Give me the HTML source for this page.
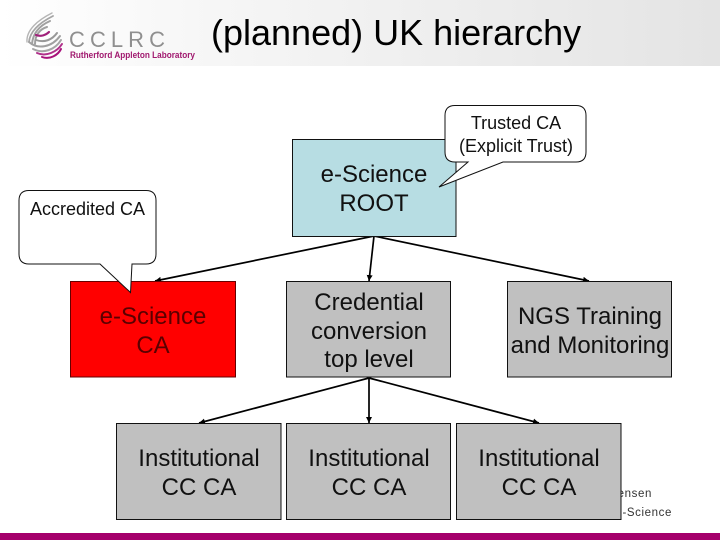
<!DOCTYPE html>
<html>
<head>
<meta charset="utf-8">
<title>(planned) UK hierarchy</title>
<style>
html,body{margin:0;padding:0;background:#fff}
svg{display:block}
text{font-family:"Liberation Sans",sans-serif}
</style>
</head>
<body>
<svg width="720" height="540" viewBox="0 0 720 540" xmlns="http://www.w3.org/2000/svg">
<defs>
<linearGradient id="hdr" x1="0" x2="1" y1="0" y2="0">
<stop offset="0" stop-color="#ffffff"/>
<stop offset="0.3" stop-color="#f6f6f6"/>
<stop offset="1" stop-color="#e4e4e4"/>
</linearGradient>
<marker id="a" markerWidth="8" markerHeight="8" refX="6" refY="3" orient="auto" markerUnits="userSpaceOnUse">
<path d="M0,0 L6,3 L0,6 Z" fill="#000"/>
</marker>
</defs>
<rect width="720" height="540" fill="#fff"/>
<rect width="720" height="66" fill="url(#hdr)"/>

<!-- logo -->
<g fill="none" stroke-linecap="round">
<path d="M52,13 C38,20 26,30 27,42" stroke="#b5b5b5" stroke-width="1.4"/>
<path d="M53,16 C41,22 30,30 29,42" stroke="#a5a5a5" stroke-width="1.8"/>
<path d="M50,21 C41,25 33,32 32,44" stroke="#a0a0a0" stroke-width="2"/>
<path d="M47,27 C40,29 35,35 35,44" stroke="#a0a0a0" stroke-width="2"/>
<path d="M36,35 C41,37 46,35 49,32" stroke="#a0207a" stroke-width="2.2"/>
<path d="M36,40 C44,43 52,40 57,33" stroke="#999" stroke-width="2"/>
<path d="M29,42 C38,50 52,47 60,36" stroke="#a0a0a0" stroke-width="2"/>
<path d="M33,49 C43,54 55,50 61,40" stroke="#a5a5a5" stroke-width="2"/>
<path d="M37,53 C46,57 57,52 62,44" stroke="#b0308a" stroke-width="2"/>
<path d="M42,57 C50,60 58,55 61,49" stroke="#a8107a" stroke-width="2"/>
</g>
<text x="69" y="47" font-size="22" fill="#8f8f8f" textLength="96" lengthAdjust="spacing">CCLRC</text>
<text x="70" y="58" font-size="8.8" font-weight="bold" fill="#a0186e" textLength="125" lengthAdjust="spacingAndGlyphs">Rutherford Appleton Laboratory</text>

<text x="211" y="45" font-size="36" fill="#000">(planned) UK hierarchy</text>

<!-- footer text -->
<text x="652" y="497" font-size="11.5" letter-spacing="0.6" text-anchor="end" fill="#333">Jensen</text>
<text x="672" y="516" font-size="11.5" letter-spacing="0.6" text-anchor="end" fill="#333">e-Science</text>

<rect x="0" y="533" width="720" height="7" fill="#a5006b"/>

<!-- connectors -->
<g stroke="#000" stroke-width="1.7" fill="none">
<line x1="374" y1="236" x2="155" y2="281" marker-end="url(#a)"/>
<line x1="374" y1="236" x2="369" y2="281" marker-end="url(#a)"/>
<line x1="374" y1="236" x2="589" y2="281" marker-end="url(#a)"/>
<line x1="369" y1="378" x2="199" y2="423" marker-end="url(#a)"/>
<line x1="369" y1="378" x2="369" y2="423" marker-end="url(#a)"/>
<line x1="369" y1="378" x2="539" y2="423" marker-end="url(#a)"/>
</g>

<!-- boxes -->
<g stroke="#111" stroke-width="1">
<rect x="292.5" y="139.5" width="163.5" height="97" fill="#b7dde3"/>
<rect x="70.5" y="281.5" width="165" height="95.5" fill="#ff0000" stroke="#600"/>
<rect x="286.5" y="281.5" width="164" height="95.5" fill="#c0c0c0"/>
<rect x="507.5" y="281.5" width="164" height="95.5" fill="#c0c0c0"/>
<rect x="116.5" y="423.5" width="164.5" height="96" fill="#c0c0c0"/>
<rect x="286.5" y="423.5" width="164" height="96" fill="#c0c0c0"/>
<rect x="456.5" y="423.5" width="164.5" height="96" fill="#c0c0c0"/>
</g>

<!-- box labels -->
<g font-size="24" text-anchor="middle" fill="#111">
<text x="374" y="182">e-Science</text>
<text x="374" y="211">ROOT</text>
<text x="153" y="324" fill="#5a0000">e-Science</text>
<text x="153" y="353" fill="#5a0000">CA</text>
<text x="369" y="310">Credential</text>
<text x="369" y="339">conversion</text>
<text x="369" y="367">top level</text>
<text x="590" y="324">NGS Training</text>
<text x="590" y="353">and Monitoring</text>
<text x="199" y="466">Institutional</text>
<text x="199" y="495">CC CA</text>
<text x="369" y="466">Institutional</text>
<text x="369" y="495">CC CA</text>
<text x="539" y="466">Institutional</text>
<text x="539" y="495">CC CA</text>
</g>

<!-- callouts -->
<path d="M455,105.5 H576 Q586,105.5 586,115.5 V152 Q586,162 576,162 H503 L439,187 L468,162 H455 Q445,162 445,152 V115.5 Q445,105.5 455,105.5 Z" fill="#fff" stroke="#111" stroke-width="1"/>
<text x="516" y="129" font-size="18" text-anchor="middle" fill="#111">Trusted CA</text>
<text x="516" y="152" font-size="18" text-anchor="middle" fill="#111">(Explicit Trust)</text>

<path d="M29,190.5 H146 Q156,190.5 156,200.5 V254 Q156,264 146,264 H132 L130.5,292.5 L100,264 H29 Q19,264 19,254 V200.5 Q19,190.5 29,190.5 Z" fill="#fff" stroke="#111" stroke-width="1"/>
<text x="87.5" y="215" font-size="18" text-anchor="middle" fill="#111">Accredited CA</text>
</svg>
</body>
</html>
